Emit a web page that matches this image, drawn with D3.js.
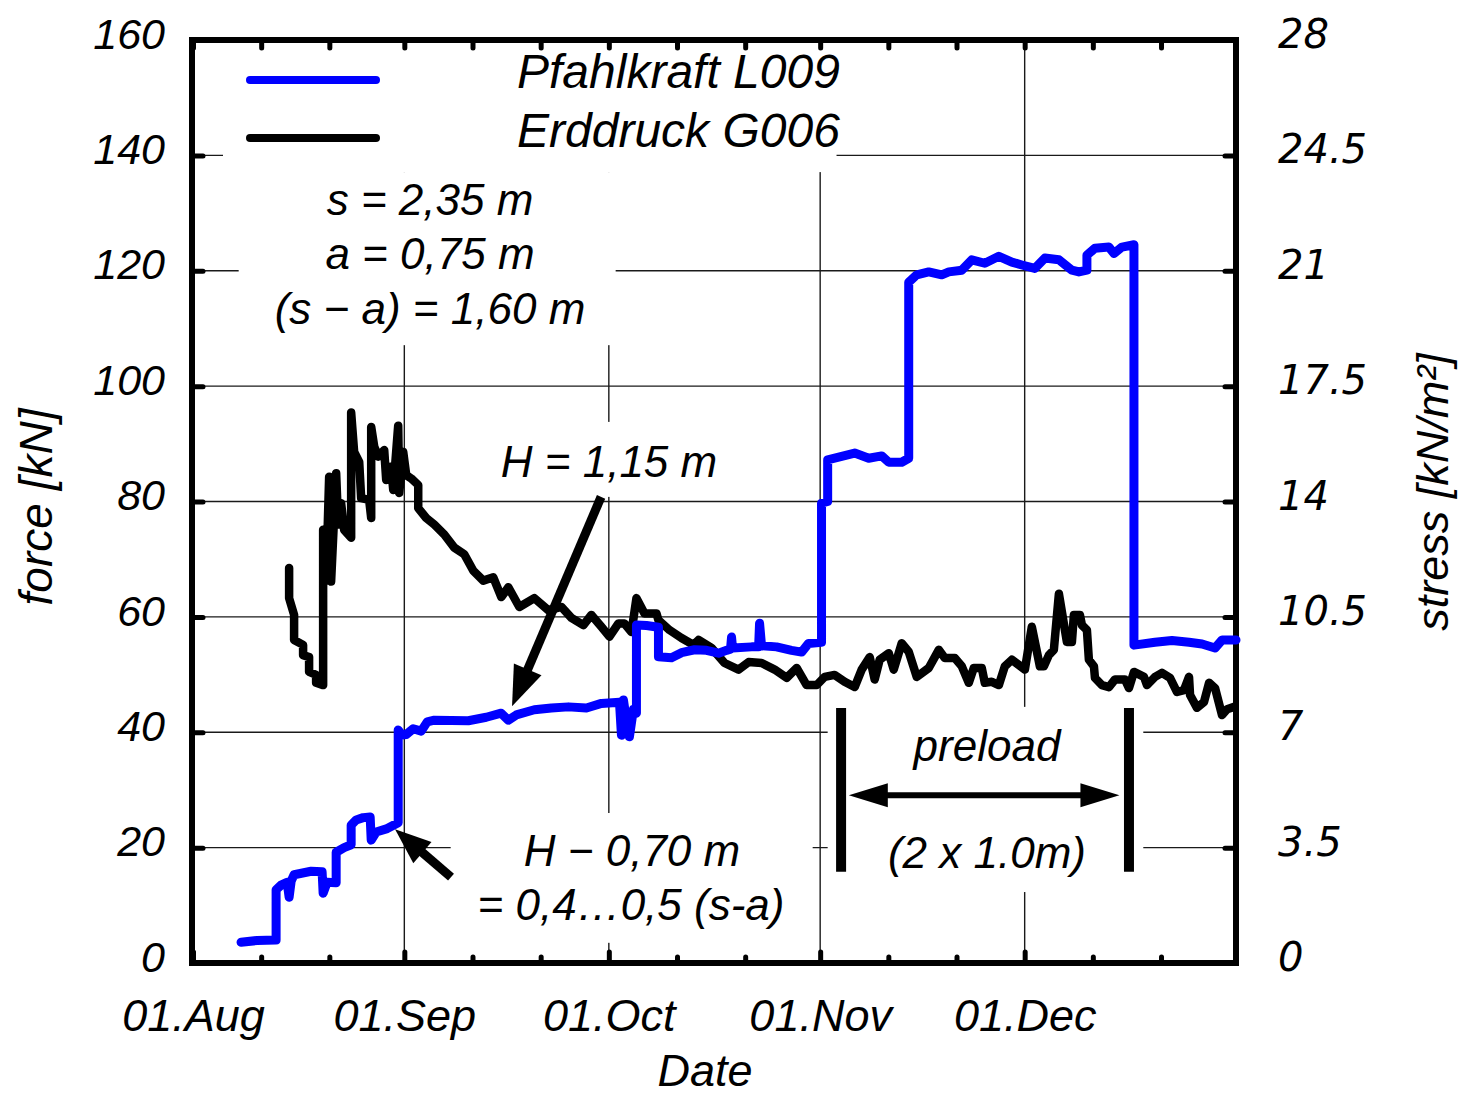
<!DOCTYPE html>
<html>
<head>
<meta charset="utf-8">
<script src="https://cdn.jsdelivr.net/npm/d3@7"></script>
<style>
  html, body { margin: 0; background: #fff; }
  svg text { font-family: "Liberation Sans", Arial, sans-serif; font-style: italic; fill: #000; }
</style>
</head>
<body>
<svg id="chart" width="1463" height="1095"></svg>
<script>
// ---- measurement period: days are counted from 01.Aug ----
const periodStart = Date.UTC(2003, 7, 1);
const periodEnd = Date.UTC(2004, 0, 1);

// ---- tick values ----
const forceTicks = [0, 20, 40, 60, 80, 100, 120, 140, 160];
const stressTicks = [0, 3.5, 7, 10.5, 14, 17.5, 21, 24.5, 28];
const monthTicks = ["2003-08-01", "2003-09-01", "2003-10-01", "2003-11-01", "2003-12-01"];
const tenDayTicks = ["2003-08-11", "2003-08-21", "2003-09-11", "2003-09-21", "2003-10-11",
                     "2003-10-21", "2003-11-11", "2003-11-21", "2003-12-11", "2003-12-21"];

// ---- Pfahlkraft L009: pile force [kN] ----
const pileDay = [7.05, 9.4, 12.19, 12.19, 12.92, 13.8, 14.1, 14.4, 14.83, 17.33, 18.94, 19.09, 19.68, 21.0, 21.0,
  22.17, 23.2, 23.2, 23.94, 24.96, 25.99, 26.14, 26.87, 28.49, 30.1, 30.1, 30.69, 31.28, 32.3, 33.48, 34.36,
  35.39, 40.38, 43.02, 45.2, 46.26, 47.43, 50.07, 52.57, 55.07, 57.71, 59.91, 62.56, 62.85, 63.14, 63.58, 64.02,
  64.61, 65.05, 65.05, 66.52, 68.28, 68.28, 70.19, 71.66, 73.57, 75.33, 77.09, 78.27, 78.85, 79.0, 79.15, 81.94,
  82.97, 83.11, 83.4, 85.6, 87.8, 89.28, 90.3, 92.2, 92.2, 93.1, 93.1, 94.13, 97.06, 99.12, 101.03, 102.06,
  103.96, 104.99, 104.99, 106.17, 107.93, 109.84, 110.87, 112.78, 114.24, 116.15, 118.21, 120.12, 121.59, 123.49,
  124.96, 127.02, 128.93, 129.96, 131.13, 131.13, 132.31, 134.36, 135.1, 136.27, 138.03, 138.03, 141.12, 143.61,
  146.11, 148.02, 149.93, 150.95, 153.0];
const pileForce = [3.6, 3.9, 4.0, 12.7, 13.5, 14.0, 11.4, 14.2, 15.3, 15.9, 15.8, 12.1, 14.0, 13.9, 19.2,
  20.0, 20.5, 23.9, 24.8, 25.2, 25.3, 21.3, 22.7, 23.3, 24.3, 40.4, 39.5, 39.6, 40.6, 40.2, 41.8,
  42.1, 42.0, 42.6, 43.3, 42.1, 43.0, 43.9, 44.2, 44.4, 44.2, 45.0, 45.2, 39.5, 45.6, 42.0, 39.2,
  44.0, 43.3, 58.6, 58.5, 58.2, 53.1, 52.9, 53.8, 54.3, 54.2, 53.7, 54.2, 54.4, 56.5, 54.6, 54.8,
  54.8, 58.9, 55.0, 54.8, 54.2, 53.9, 55.4, 55.6, 79.7, 80.0, 87.2, 87.5, 88.4, 87.5, 87.9, 86.8,
  86.8, 87.5, 118.0, 119.3, 119.8, 119.3, 119.8, 120.1, 121.9, 121.3, 122.5, 121.5, 121.0, 120.4,
  122.2, 121.9, 120.1, 119.8, 120.1, 122.7, 123.9, 124.1, 123.0, 124.1, 124.5, 55.1, 55.6, 55.9,
  55.6, 55.3, 54.6, 56.0, 56.0];

// ---- Erddruck G006: earth pressure [kN/m²] ----
const earthDay = [14.1, 14.1, 14.83, 14.83, 16.15, 16.15, 17.03, 17.03, 18.06, 18.06, 19.09, 19.09, 19.53, 19.97,
  20.26, 21.0, 21.29, 21.73, 22.17, 23.2, 23.2, 23.64, 24.38, 24.67, 25.84, 26.14, 26.14, 26.58, 27.17, 28.05,
  28.34, 29.07, 29.37, 30.1, 30.25, 30.84, 31.28, 32.01, 33.04, 33.04, 34.21, 35.39, 36.86, 38.33, 39.79, 41.12,
  42.58, 44.05, 45.23, 46.26, 47.87, 50.07, 52.13, 54.04, 55.51, 57.27, 58.44, 59.91, 61.09, 62.41, 63.29, 64.32,
  65.05, 66.23, 67.99, 68.28, 69.9, 71.66, 73.42, 74.16, 76.06, 77.97, 80.03, 81.5, 83.41, 85.32, 87.08, 88.55,
  90.01, 91.48, 92.66, 94.13, 95.59, 97.06, 98.09, 99.27, 100.0, 100.73, 102.06, 102.79, 103.96, 104.99, 106.17,
  107.93, 109.4, 110.28, 111.75, 112.78, 113.8, 114.54, 115.71, 116.15, 117.18, 118.21, 119.09, 120.12, 121.15,
  122.03, 123.05, 124.23, 124.82, 125.55, 126.28, 127.02, 128.19, 128.93, 129.22, 130.1, 130.4, 131.13, 131.42,
  132.16, 132.31, 133.33, 134.36, 135.24, 136.71, 137.3, 138.03, 139.5, 139.94, 141.12, 142.14, 143.32, 144.35,
  145.37, 146.11, 146.26, 147.28, 148.31, 149.05, 149.93, 150.95, 151.69, 152.72];
const earthStress = [11.98, 11.07, 10.56, 9.8, 9.65, 9.34, 9.28, 8.83, 8.74, 8.5, 8.43, 13.14, 11.6, 14.75,
  11.57, 14.86, 13.3, 13.95, 13.14, 12.9, 16.7, 15.5, 15.2, 14.1, 14.05, 13.5, 16.26, 15.67, 15.36, 15.56,
  14.65, 15.06, 14.35, 16.3, 14.26, 15.5, 14.8, 14.7, 14.5, 13.8, 13.5, 13.3, 13.0, 12.6, 12.4, 11.9,
  11.6, 11.7, 11.1, 11.4, 10.8, 11.07, 10.7, 10.8, 10.47, 10.25, 10.56, 10.2, 9.9, 10.3, 10.3, 10.04,
  11.07, 10.6, 10.6, 10.4, 10.1, 9.86, 9.65, 9.8, 9.56, 9.1, 8.9, 9.13, 9.1, 8.9, 8.65, 8.95,
  8.43, 8.43, 8.68, 8.74, 8.53, 8.37, 8.9, 9.28, 8.6, 9.2, 9.4, 8.9, 9.7, 9.44, 8.68,
  8.95, 9.5, 9.25, 9.25, 9.0, 8.5, 8.95, 8.95, 8.5, 8.53, 8.43, 9.0, 9.2, 9.04,
  8.9, 10.2, 9.0, 9.0, 9.34, 9.5, 11.2, 9.74, 9.74, 10.56, 10.56, 10.25, 10.1, 9.2,
  9.0, 8.65, 8.43, 8.37, 8.6, 8.6, 8.34, 8.83, 8.68, 8.43, 8.68, 8.8, 8.65, 8.22,
  8.28, 8.68, 8.13, 7.74, 7.92, 8.5, 8.34, 7.52, 7.7, 7.77];

// ---- layout ----
const svg = d3.select("#chart");
const plot = { left: 192, top: 40, right: 1236, bottom: 963 };

const dayToDate = d => new Date(periodStart + d * 864e5);
const x = d3.scaleUtc().domain([new Date(periodStart), new Date(periodEnd)]).range([193, 1236]);
const yForce = d3.scaleLinear().domain([0, 160]).range([plot.bottom, plot.top]);
const yStress = d3.scaleLinear().domain([0, 28]).range([plot.bottom, plot.top]);
const X = d => x(dayToDate(d));

const parseDay = d3.utcParse("%Y-%m-%d");
const majorDates = monthTicks.map(parseDay);
const minorDates = tenDayTicks.map(parseDay);

// ---- grid ----
const grid = svg.append("g").attr("stroke", "#1a1a1a").attr("stroke-width", 1.4);
grid.selectAll("line.h").data(forceTicks.slice(1, -1)).join("line")
  .attr("x1", plot.left).attr("x2", plot.right)
  .attr("y1", d => yForce(d)).attr("y2", d => yForce(d));
grid.selectAll("line.v").data(majorDates.slice(1)).join("line")
  .attr("x1", d => x(d)).attr("x2", d => x(d))
  .attr("y1", plot.top).attr("y2", plot.bottom);

// white backing behind the text blocks (in day / kN coordinates)
const textBoxes = [
  [4.4, 94.4, 137.1, 160],    // legend
  [6.7, 62.0, 107.1, 137.1],  // s, a, (s - a)
  [43.7, 78.8, 80.8, 93.8],   // H = 1,15 m
  [37.8, 90.9, 3.5, 26.0],    // H - 0,70 m
  [93.1, 139.4, 12.3, 44.4]   // preload
];
svg.append("g").selectAll("rect").data(textBoxes).join("rect")
  .attr("fill", "#fff")
  .attr("x", d => X(d[0])).attr("width", d => X(d[1]) - X(d[0]))
  .attr("y", d => yForce(d[3])).attr("height", d => yForce(d[2]) - yForce(d[3]));

// ---- axes ----
const tickStyle = g => g.selectAll("line")
  .attr("stroke", "#000").attr("stroke-width", 5).attr("stroke-linecap", "round");

const bottomAxis = svg.append("g").attr("transform", `translate(0,${plot.bottom})`)
  .call(d3.axisBottom(x).tickValues(majorDates).tickFormat(d3.utcFormat("%d.%b"))
    .tickSizeInner(-11).tickSizeOuter(0));
bottomAxis.select(".domain").remove();
bottomAxis.call(tickStyle);
bottomAxis.selectAll("text").attr("y", 68).attr("dy", 0)
  .style("font-size", "45px").style("font-family", "'Liberation Sans', Arial, sans-serif");

const bottomMinor = svg.append("g").attr("transform", `translate(0,${plot.bottom})`)
  .call(d3.axisBottom(x).tickValues(minorDates).tickFormat("").tickSizeInner(-6).tickSizeOuter(0));
bottomMinor.select(".domain").remove();
bottomMinor.call(tickStyle);

const topAxis = svg.append("g").attr("transform", `translate(0,${plot.top})`)
  .call(d3.axisTop(x).tickValues(majorDates.concat(minorDates)).tickFormat("")
    .tickSizeInner(-8).tickSizeOuter(0));
topAxis.select(".domain").remove();
topAxis.call(tickStyle);

const leftAxis = svg.append("g").attr("transform", `translate(${plot.left},0)`)
  .call(d3.axisLeft(yForce).tickValues(forceTicks).tickSizeInner(-11).tickSizeOuter(0).tickPadding(27));
leftAxis.select(".domain").remove();
leftAxis.call(tickStyle);
leftAxis.selectAll("text").attr("dy", "0.19em")
  .style("font-size", "43px").style("font-family", "'Liberation Sans', Arial, sans-serif");

const rightAxis = svg.append("g").attr("transform", `translate(${plot.right},0)`)
  .call(d3.axisRight(yStress).tickValues(stressTicks).tickFormat(d3.format("~g"))
    .tickSizeInner(-11).tickSizeOuter(0).tickPadding(42));
rightAxis.select(".domain").remove();
rightAxis.call(tickStyle);
rightAxis.selectAll("text").attr("dy", "0.19em")
  .style("font-size", "40px").style("font-family", "'DejaVu Sans', sans-serif");

// frame
svg.append("rect")
  .attr("x", plot.left).attr("y", plot.top)
  .attr("width", plot.right - plot.left).attr("height", plot.bottom - plot.top)
  .attr("fill", "none").attr("stroke", "#000").attr("stroke-width", 6);

// axis titles
svg.append("text").attr("transform", "translate(52,507) rotate(-90)")
  .attr("text-anchor", "middle").style("font-size", "46px").text("force [kN]");
svg.append("text").attr("transform", "translate(1448,492) rotate(-90)")
  .attr("text-anchor", "middle").style("font-size", "45px").text("stress [kN/m²]");
svg.append("text").attr("x", 705).attr("y", 1086)
  .attr("text-anchor", "middle").style("font-size", "45px").text("Date");

// ---- series ----
const pileLine = d3.line().x(i => X(pileDay[i])).y(i => yForce(pileForce[i]));
const earthLine = d3.line().x(i => X(earthDay[i])).y(i => yStress(earthStress[i]));

svg.append("path").attr("d", earthLine(d3.range(earthDay.length)))
  .attr("fill", "none").attr("stroke", "#000").attr("stroke-width", 8.5)
  .attr("stroke-linejoin", "round").attr("stroke-linecap", "round");
svg.append("path").attr("d", pileLine(d3.range(pileDay.length)))
  .attr("fill", "none").attr("stroke", "#0000ff").attr("stroke-width", 9)
  .attr("stroke-linejoin", "round").attr("stroke-linecap", "round");

// ---- legend ----
const legend = [
  { label: "Pfahlkraft L009", color: "#0000ff", y: 80, base: 88 },
  { label: "Erddruck G006", color: "#000", y: 138, base: 147 }
];
legend.forEach(l => {
  svg.append("line").attr("x1", 250).attr("x2", 376).attr("y1", l.y).attr("y2", l.y)
    .attr("stroke", l.color).attr("stroke-width", 8).attr("stroke-linecap", "round");
  svg.append("text").attr("x", 517).attr("y", l.base).style("font-size", "48px").text(l.label);
});

// ---- annotations ----
const note = (txt, cx, by) => svg.append("text").attr("x", cx).attr("y", by)
  .attr("text-anchor", "middle").style("font-size", "44px").text(txt);

note("s = 2,35 m", 430, 215);
note("a = 0,75 m", 430, 269);
note("(s \u2212 a) = 1,60 m", 430, 324);
note("H = 1,15 m", 609, 477);
note("H \u2212 0,70 m", 632, 866);
note("= 0,4\u20260,5 (s-a)", 631, 920);
note("preload", 987, 761);
note("(2 x 1.0m)", 987, 868);

// arrow from (x1,y1) to the tip (x2,y2)
function arrow(x1, y1, x2, y2, w, headLen, headHalf) {
  const dx = x2 - x1, dy = y2 - y1, len = Math.hypot(dx, dy);
  const ux = dx / len, uy = dy / len;
  const bx = x2 - ux * headLen, by = y2 - uy * headLen;
  svg.append("line").attr("x1", x1).attr("y1", y1).attr("x2", bx + ux * 2).attr("y2", by + uy * 2)
    .attr("stroke", "#000").attr("stroke-width", w);
  svg.append("path")
    .attr("d", `M${x2},${y2}L${bx - uy * headHalf},${by + ux * headHalf}L${bx + uy * headHalf},${by - ux * headHalf}Z`)
    .attr("fill", "#000");
}

// pointers to the force level at H = 1,15 m and H - 0,70 m
arrow(X(59.86), yForce(80.8), X(46.8), yForce(44.5), 9, 40, 15);
arrow(X(37.85), yForce(14.9), X(29.64), yForce(23.2), 9, 36, 14);

// preload interval
[95.07, 137.3].forEach(d => {
  svg.append("line").attr("x1", X(d)).attr("x2", X(d))
    .attr("y1", yForce(44.2)).attr("y2", yForce(15.8))
    .attr("stroke", "#000").attr("stroke-width", 10);
});
const ya = yForce(29.1);
const xa1 = X(96.2), xa2 = X(135.9);
svg.append("line").attr("x1", xa1 + 30).attr("x2", xa2 - 30).attr("y1", ya).attr("y2", ya)
  .attr("stroke", "#000").attr("stroke-width", 6);
svg.append("path").attr("d", `M${xa1},${ya}L${xa1 + 39},${ya - 12}L${xa1 + 39},${ya + 12}Z`).attr("fill", "#000");
svg.append("path").attr("d", `M${xa2},${ya}L${xa2 - 39},${ya - 12}L${xa2 - 39},${ya + 12}Z`).attr("fill", "#000");
</script>
</body>
</html>
